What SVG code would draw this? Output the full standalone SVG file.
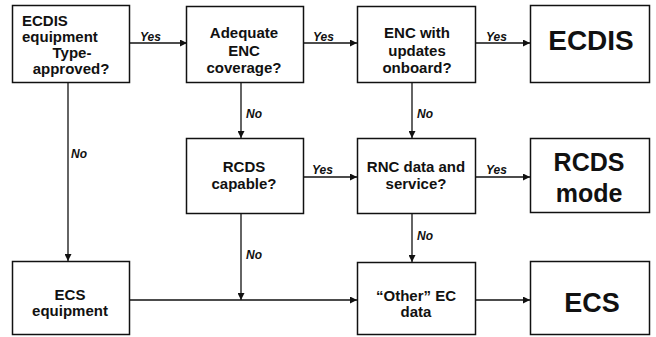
<svg xmlns="http://www.w3.org/2000/svg" width="656" height="337" viewBox="0 0 656 337">
<style>
.box{fill:#fff;stroke:#111;stroke-width:1.5}
.t{font-family:"Liberation Sans",Arial,sans-serif;font-weight:bold;font-size:15px;fill:#111;text-anchor:middle}
.big{font-family:"Liberation Sans",Arial,sans-serif;font-weight:bold;fill:#111;text-anchor:middle}
.lbl{font-family:"Liberation Sans",Arial,sans-serif;font-weight:bold;font-style:italic;font-size:12px;fill:#111}
.c{fill:none;stroke:#111;stroke-width:1.3}
</style>
<defs>
<marker id="ah" viewBox="0 0 10 10" refX="10" refY="5" markerWidth="7" markerHeight="7" markerUnits="userSpaceOnUse" orient="auto">
<path d="M0,0 L10,5 L0,10 z" fill="#111"/>
</marker>
</defs>
<rect width="656" height="337" fill="#fff"/>
<g id="connectors">
<path class="c" d="M129,43 H187" marker-end="url(#ah)"/>
<path class="c" d="M304,43 H357" marker-end="url(#ah)"/>
<path class="c" d="M476,43 H530" marker-end="url(#ah)"/>
<path class="c" d="M68,83 V261" marker-end="url(#ah)"/>
<path class="c" d="M241,82 V138" marker-end="url(#ah)"/>
<path class="c" d="M412,82 V138" marker-end="url(#ah)"/>
<path class="c" d="M303,177 H357" marker-end="url(#ah)"/>
<path class="c" d="M475,177 H530" marker-end="url(#ah)"/>
<path class="c" d="M241,213 V300" marker-end="url(#ah)"/>
<path class="c" d="M130,300 H357" marker-end="url(#ah)"/>
<path class="c" d="M412,213 V262" marker-end="url(#ah)"/>
<path class="c" d="M476,300 H530" marker-end="url(#ah)"/>
<text class="lbl" x="140" y="41">Yes</text>
<text class="lbl" x="313" y="41">Yes</text>
<text class="lbl" x="486" y="41">Yes</text>
<text class="lbl" x="312" y="174">Yes</text>
<text class="lbl" x="486" y="174">Yes</text>
<text class="lbl" x="71" y="158">No</text>
<text class="lbl" x="246" y="118">No</text>
<text class="lbl" x="417" y="118">No</text>
<text class="lbl" x="246" y="259">No</text>
<text class="lbl" x="417" y="240">No</text>
</g>
<g id="ecdis-equipment">
<rect class="box" x="12.5" y="5.5" width="117" height="77"/>
<text class="t" x="22" y="26" style="text-anchor:start">ECDIS</text>
<text class="t" x="22" y="42" style="text-anchor:start">equipment</text>
<text class="t" x="72" y="58">Type-</text>
<text class="t" x="71" y="74">approved?</text>
</g>
<g id="adequate-enc">
<rect class="box" x="186.5" y="6.5" width="117" height="76"/>
<text class="t" x="244" y="38">Adequate</text>
<text class="t" x="244" y="56">ENC</text>
<text class="t" x="244" y="73">coverage?</text>
</g>
<g id="enc-updates">
<rect class="box" x="357.5" y="6.5" width="118" height="76"/>
<text class="t" x="417" y="38">ENC with</text>
<text class="t" x="417" y="56">updates</text>
<text class="t" x="417" y="73">onboard?</text>
</g>
<g id="ecdis">
<rect class="box" x="530.5" y="5.5" width="119" height="77"/>
<text class="big" x="591" y="50" font-size="28">ECDIS</text>
</g>
<g id="rcds-capable">
<rect class="box" x="186.5" y="138.5" width="117" height="75"/>
<text class="t" x="244" y="172">RCDS</text>
<text class="t" x="244" y="189">capable?</text>
</g>
<g id="rnc-data">
<rect class="box" x="357.5" y="138.5" width="118" height="75"/>
<text class="t" x="416" y="172">RNC data and</text>
<text class="t" x="416" y="189">service?</text>
</g>
<g id="rcds-mode">
<rect class="box" x="530.5" y="138.5" width="119" height="74"/>
<text class="big" x="589" y="171" font-size="25">RCDS</text>
<text class="big" x="589" y="202" font-size="25">mode</text>
</g>
<g id="ecs-equipment">
<rect class="box" x="12.5" y="261.5" width="117" height="73"/>
<text class="t" x="70" y="300">ECS</text>
<text class="t" x="70" y="316">equipment</text>
</g>
<g id="other-ec">
<rect class="box" x="357.5" y="262.5" width="118" height="72"/>
<text class="t" x="416" y="301">“Other” EC</text>
<text class="t" x="416" y="317">data</text>
</g>
<g id="ecs">
<rect class="box" x="530.5" y="261.5" width="119" height="73"/>
<text class="big" x="592" y="312" font-size="27">ECS</text>
</g>
</svg>
